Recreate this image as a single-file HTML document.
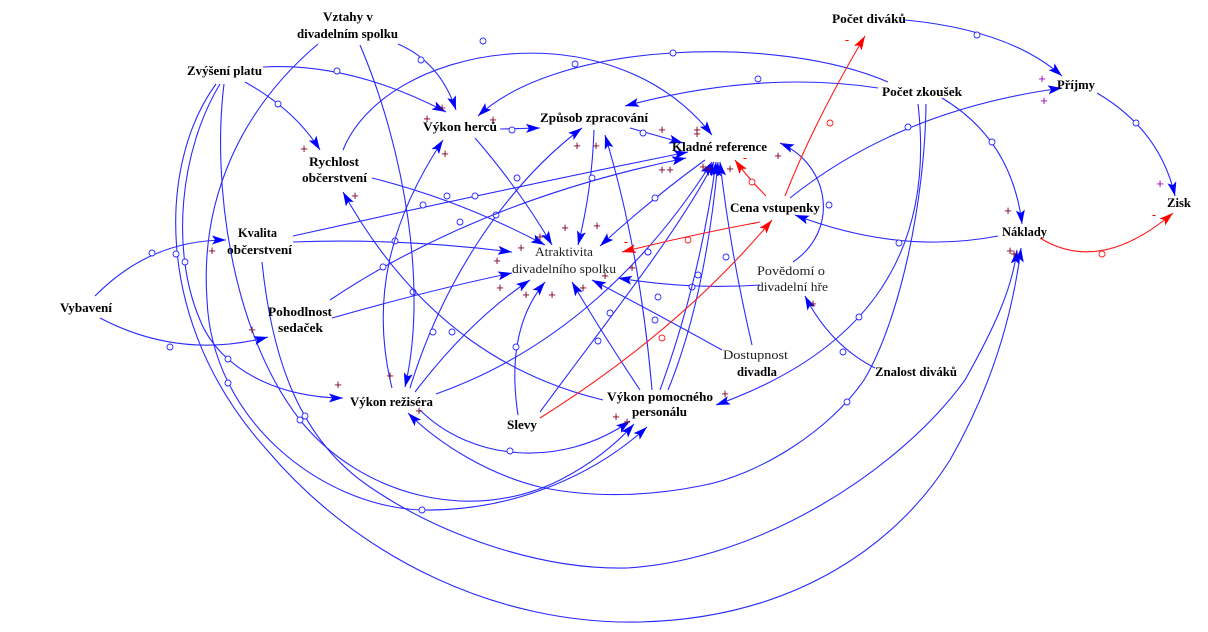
<!DOCTYPE html>
<html><head><meta charset="utf-8"><style>
html,body{margin:0;padding:0;background:#fff;}
svg{display:block;}
.t{font-family:"Liberation Serif",serif;font-weight:bold;font-size:12.5px;fill:#000;}
.n{font-family:"Liberation Serif",serif;font-size:13px;fill:#222;}
.b{fill:none;stroke:#2a2aff;stroke-width:1.1;}
.r{fill:none;stroke:#ff1a1a;stroke-width:1.1;}
.c{fill:#fff;stroke:#2a2aff;stroke-width:0.9;}
.cr{fill:#fff;stroke:#ff1a1a;stroke-width:0.9;}
.p{font-family:"Liberation Sans",sans-serif;font-size:13px;fill:#800020;}
.pp{font-family:"Liberation Sans",sans-serif;font-size:13px;fill:#a000c0;}
.m{font-family:"Liberation Sans",sans-serif;font-size:13px;fill:#ff0000;}
</style></head><body>
<svg width="1208" height="632" viewBox="0 0 1208 632" xmlns="http://www.w3.org/2000/svg">
<defs>
<marker id="ab" markerUnits="userSpaceOnUse" markerWidth="15" markerHeight="10" refX="14" refY="4.5" orient="auto"><path d="M0,0 L14,4.5 L0,9 L3,4.5 z" fill="#0000ff"/></marker>
<marker id="ar" markerUnits="userSpaceOnUse" markerWidth="15" markerHeight="10" refX="14" refY="4.5" orient="auto"><path d="M0,0 L14,4.5 L0,9 L3,4.5 z" fill="#ff0000"/></marker>
</defs>
<rect width="1208" height="632" fill="#fff"/>

<!-- big bottom arcs -->
<path class="b" marker-end="url(#ab)" d="M216,84 C160,160 150,320 267,450 C360,560 500,625 640,622 C800,618 900,540 950,460 C990,390 1012,320 1021,248"/>
<path class="b" marker-end="url(#ab)" d="M262,262 C272,360 300,440 370,487 C440,535 540,570 627,568 C760,560 900,470 965,380 C993,330 1012,290 1017,250"/>
<path class="b" marker-end="url(#ab)" d="M224,84 C212,180 230,330 300,420 C360,495 470,525 560,480 C595,462 618,442 634,424"/>
<path class="b" marker-end="url(#ab)" d="M318,44 C240,110 200,200 207,300 C212,420 320,505 420,510 C520,512 600,470 647,427"/>
<path class="b" marker-end="url(#ab)" d="M220,84 C180,150 170,250 200,320 C220,370 280,398 343,398"/>
<path class="b" marker-end="url(#ab)" d="M926,104 C925,200 900,320 864,380 C830,430 760,475 700,486 C660,494 600,500 540,487 C490,475 440,445 408,413"/>
<path class="b" marker-end="url(#ab)" d="M918,104 C935,250 870,350 716,405"/>
<path class="b" marker-end="url(#ab)" d="M420,410 C470,460 560,470 630,421"/>
<circle class="c" cx="185" cy="262" r="3"/><circle class="c" cx="228" cy="359" r="3"/>
<circle class="c" cx="300" cy="420" r="3"/><circle class="c" cx="422" cy="510" r="3"/>
<circle class="c" cx="176" cy="254" r="3"/><circle class="c" cx="305" cy="416" r="3"/>
<circle class="c" cx="847" cy="402" r="3"/><circle class="c" cx="859" cy="317" r="3"/>
<circle class="c" cx="510" cy="451" r="3"/><circle class="c" cx="228" cy="383" r="3"/>

<!-- top region -->
<path class="b" marker-end="url(#ab)" d="M398,44 Q440,62 456,110"/><circle class="c" cx="421" cy="60" r="3"/>
<path class="b" marker-end="url(#ab)" d="M263,67 Q350,62 446,112"/><circle class="c" cx="337" cy="71" r="3"/>
<path class="b" marker-end="url(#ab)" d="M245,82 Q295,110 320,150"/><circle class="c" cx="278" cy="104" r="3"/>
<path class="b" marker-end="url(#ab)" d="M343,150 C385,45 610,5 712,135"/><circle class="c" cx="483" cy="41" r="3"/>
<path class="b" marker-end="url(#ab)" d="M888,82 C780,35 560,40 478,116"/><circle class="c" cx="673" cy="53" r="3"/><circle class="c" cx="575" cy="64" r="3"/>
<path class="b" marker-end="url(#ab)" d="M878,88 Q760,70 625,106"/><circle class="c" cx="758" cy="79" r="3"/>
<path class="b" marker-end="url(#ab)" d="M500,129 L540,128"/><circle class="c" cx="512" cy="130" r="3"/>
<path class="b" marker-end="url(#ab)" d="M475,138 Q520,190 552,245"/><circle class="c" cx="517" cy="178" r="3"/>
<path class="b" marker-end="url(#ab)" d="M630,128 Q655,135 683,143"/><circle class="c" cx="643" cy="133" r="3"/>
<path class="b" marker-end="url(#ab)" d="M594,130 Q592,190 578,245"/><circle class="c" cx="592" cy="178" r="3"/>
<path class="b" marker-end="url(#ab)" d="M410,388 C440,290 500,190 582,128"/><circle class="c" cx="496" cy="215" r="3"/>
<path class="b" marker-end="url(#ab)" d="M652,390 Q640,250 605,135"/><circle class="c" cx="648" cy="252" r="3"/>
<path class="b" marker-end="url(#ab)" d="M705,160 Q650,200 600,246"/><circle class="c" cx="655" cy="198" r="3"/>
<path class="b" marker-end="url(#ab)" d="M293,236 Q500,190 688,152"/><circle class="c" cx="475" cy="196" r="3"/>
<path class="b" marker-end="url(#ab)" d="M330,300 Q480,200 686,158"/><circle class="c" cx="460" cy="222" r="3"/>
<path class="b" marker-end="url(#ab)" d="M293,242 Q400,238 512,252"/><circle class="c" cx="395" cy="241" r="3"/>
<path class="b" marker-end="url(#ab)" d="M372,178 Q460,200 545,245"/><circle class="c" cx="447" cy="196" r="3"/>
<path class="b" marker-end="url(#ab)" d="M332,318 Q430,290 512,273"/><circle class="c" cx="413" cy="292" r="3"/>
<path class="b" marker-end="url(#ab)" d="M415,392 Q470,320 530,280"/><circle class="c" cx="452" cy="332" r="3"/>
<path class="b" marker-end="url(#ab)" d="M518,415 Q505,330 545,282"/><circle class="c" cx="516" cy="347" r="3"/>
<path class="b" marker-end="url(#ab)" d="M640,390 Q600,330 572,282"/><circle class="c" cx="598" cy="341" r="3"/>
<path class="b" marker-end="url(#ab)" d="M722,350 Q650,310 592,280"/><circle class="c" cx="655" cy="320" r="3"/>
<path class="b" marker-end="url(#ab)" d="M760,285 Q690,290 618,278"/><circle class="c" cx="692" cy="287" r="3"/>
<path class="b" marker-end="url(#ab)" d="M793,262 C840,230 830,165 780,143"/><circle class="c" cx="829" cy="205" r="3"/>
<path class="b" marker-end="url(#ab)" d="M752,345 Q730,250 720,162"/><circle class="c" cx="726" cy="257" r="3"/>
<path class="b" marker-end="url(#ab)" d="M540,412 C600,330 680,230 714,162"/><circle class="c" cx="648" cy="252" r="3"/>
<path class="b" marker-end="url(#ab)" d="M660,390 Q700,280 716,162"/><circle class="c" cx="698" cy="275" r="3"/>
<path class="b" marker-end="url(#ab)" d="M668,390 Q705,300 718,162"/><circle class="c" cx="658" cy="297" r="3"/>
<path class="b" marker-end="url(#ab)" d="M436,394 C560,350 650,260 712,162"/><circle class="c" cx="610" cy="313" r="3"/>
<path class="b" marker-end="url(#ab)" d="M603,400 C520,380 420,330 343,192"/><circle class="c" cx="433" cy="332" r="3"/>
<path class="b" marker-end="url(#ab)" d="M360,45 C405,150 428,290 405,387"/><circle class="c" cx="423" cy="205" r="3"/>
<path class="b" marker-end="url(#ab)" d="M392,388 C370,300 390,220 443,140"/><circle class="c" cx="383" cy="267" r="3"/>
<path class="b" marker-end="url(#ab)" d="M95,296 Q150,240 226,240"/><circle class="c" cx="152" cy="253" r="3"/>
<path class="b" marker-end="url(#ab)" d="M100,318 Q180,360 268,337"/><circle class="c" cx="170" cy="347" r="3"/>

<!-- right region -->
<path class="b" marker-end="url(#ab)" d="M790,198 Q900,110 1062,88"/><circle class="c" cx="908" cy="127" r="3"/>
<path class="b" marker-end="url(#ab)" d="M998,236 Q900,255 795,215"/><circle class="c" cx="899" cy="243" r="3"/>
<path class="b" marker-end="url(#ab)" d="M905,20 Q1010,30 1062,76"/><circle class="c" cx="977" cy="35" r="3"/>
<path class="b" marker-end="url(#ab)" d="M1097,93 Q1160,130 1175,196"/><circle class="c" cx="1136" cy="123" r="3"/>
<path class="b" marker-end="url(#ab)" d="M942,98 Q1012,140 1022,224"/><circle class="c" cx="992" cy="142" r="3"/>
<path class="b" marker-end="url(#ab)" d="M875,368 Q830,345 805,296"/><circle class="c" cx="843" cy="352" r="3"/>

<!-- red -->
<path class="r" marker-end="url(#ar)" d="M766,196 Q748,178 735,160"/><circle class="cr" cx="752" cy="182" r="3"/>
<path class="r" marker-end="url(#ar)" d="M785,196 Q815,120 865,36"/><circle class="cr" cx="830" cy="123" r="3"/>
<path class="r" marker-end="url(#ar)" d="M760,222 Q690,235 622,252"/><circle class="cr" cx="688" cy="240" r="3"/>
<path class="r" marker-end="url(#ar)" d="M540,418 Q680,330 772,220"/><circle class="cr" cx="662" cy="338" r="3"/>
<path class="r" marker-end="url(#ar)" d="M1040,238 Q1100,275 1173,213"/><circle class="cr" cx="1102" cy="254" r="3"/>

<!-- labels -->
<g class="t">
<text x="323" y="21" textLength="50" lengthAdjust="spacingAndGlyphs">Vztahy v</text>
<text x="297" y="38" textLength="101" lengthAdjust="spacingAndGlyphs">divadelním spolku</text>
<text x="187" y="75" textLength="75" lengthAdjust="spacingAndGlyphs">Zvýšení platu</text>
<text x="309" y="166" textLength="50" lengthAdjust="spacingAndGlyphs">Rychlost</text>
<text x="302" y="182" textLength="65" lengthAdjust="spacingAndGlyphs">občerstvení</text>
<text x="423" y="131" textLength="74" lengthAdjust="spacingAndGlyphs">Výkon herců</text>
<text x="540" y="122" textLength="108" lengthAdjust="spacingAndGlyphs">Způsob zpracování</text>
<text x="672" y="151" textLength="95" lengthAdjust="spacingAndGlyphs">Kladné reference</text>
<text x="730" y="212" textLength="90" lengthAdjust="spacingAndGlyphs">Cena vstupenky</text>
<text x="832" y="23" textLength="74" lengthAdjust="spacingAndGlyphs">Počet diváků</text>
<text x="1057" y="89" textLength="38" lengthAdjust="spacingAndGlyphs">Příjmy</text>
<text x="882" y="96" textLength="80" lengthAdjust="spacingAndGlyphs">Počet zkoušek</text>
<text x="1167" y="207" textLength="24" lengthAdjust="spacingAndGlyphs">Zisk</text>
<text x="1002" y="236" textLength="45" lengthAdjust="spacingAndGlyphs">Náklady</text>
<text x="238" y="237" textLength="39" lengthAdjust="spacingAndGlyphs">Kvalita</text>
<text x="227" y="254" textLength="65" lengthAdjust="spacingAndGlyphs">občerstvení</text>
<text x="60" y="312" textLength="52" lengthAdjust="spacingAndGlyphs">Vybavení</text>
<text x="268" y="316" textLength="64" lengthAdjust="spacingAndGlyphs">Pohodlnost</text>
<text x="278" y="332" textLength="45" lengthAdjust="spacingAndGlyphs">sedaček</text>
<text x="350" y="406" textLength="83" lengthAdjust="spacingAndGlyphs">Výkon režiséra</text>
<text x="507" y="429" textLength="30" lengthAdjust="spacingAndGlyphs">Slevy</text>
<text x="607" y="401" textLength="106" lengthAdjust="spacingAndGlyphs">Výkon pomocného</text>
<text x="632" y="416" textLength="55" lengthAdjust="spacingAndGlyphs">personálu</text>
<text x="737" y="376" textLength="40" lengthAdjust="spacingAndGlyphs">divadla</text>
<text x="875" y="376" textLength="82" lengthAdjust="spacingAndGlyphs">Znalost diváků</text>
</g>
<g class="n">
<text x="535" y="256" textLength="58" lengthAdjust="spacingAndGlyphs">Atraktivita</text>
<text x="512" y="273" textLength="104" lengthAdjust="spacingAndGlyphs">divadelního spolku</text>
<text x="757" y="275" textLength="68" lengthAdjust="spacingAndGlyphs">Povědomí o</text>
<text x="757" y="291" textLength="71" lengthAdjust="spacingAndGlyphs">divadelní hře</text>
<text x="723" y="359" textLength="65" lengthAdjust="spacingAndGlyphs">Dostupnost</text>
</g>

<!-- polarity signs -->
<g class="p" text-anchor="middle">
<text x="442" y="112">+</text><text x="427" y="123">+</text><text x="493" y="124">+</text><text x="445" y="158">+</text>
<text x="577" y="150">+</text><text x="596" y="150">+</text><text x="662" y="134">+</text><text x="697" y="134">+</text><text x="697" y="138">+</text>
<text x="662" y="174">+</text><text x="670" y="174">+</text><text x="703" y="171">+</text><text x="708" y="173">+</text><text x="730" y="173">+</text><text x="778" y="160">+</text>
<text x="540" y="241">+</text><text x="565" y="232">+</text><text x="597" y="230">+</text><text x="521" y="252">+</text><text x="497" y="265">+</text>
<text x="632" y="272">+</text><text x="605" y="280">+</text><text x="500" y="292">+</text><text x="526" y="299">+</text><text x="552" y="299">+</text><text x="583" y="292">+</text>
<text x="813" y="308">+</text>
<text x="725" y="398">+</text><text x="616" y="421">+</text><text x="627" y="426">+</text>
<text x="338" y="389">+</text><text x="390" y="380">+</text><text x="419" y="415">+</text>
<text x="212" y="255">+</text><text x="252" y="334">+</text>
<text x="304" y="153">+</text><text x="355" y="200">+</text>
<text x="1008" y="215">+</text><text x="1010" y="255">+</text><text x="1014" y="258">+</text>
</g>
<g class="pp" text-anchor="middle">
<text x="1042" y="83">+</text><text x="1044" y="105">+</text><text x="1160" y="188">+</text>
</g>
<g class="m" text-anchor="middle">
<text x="847" y="44">-</text><text x="745" y="162">-</text><text x="753" y="227">-</text><text x="626" y="246">-</text><text x="1154" y="219">-</text>
</g>
</svg>
</body></html>
